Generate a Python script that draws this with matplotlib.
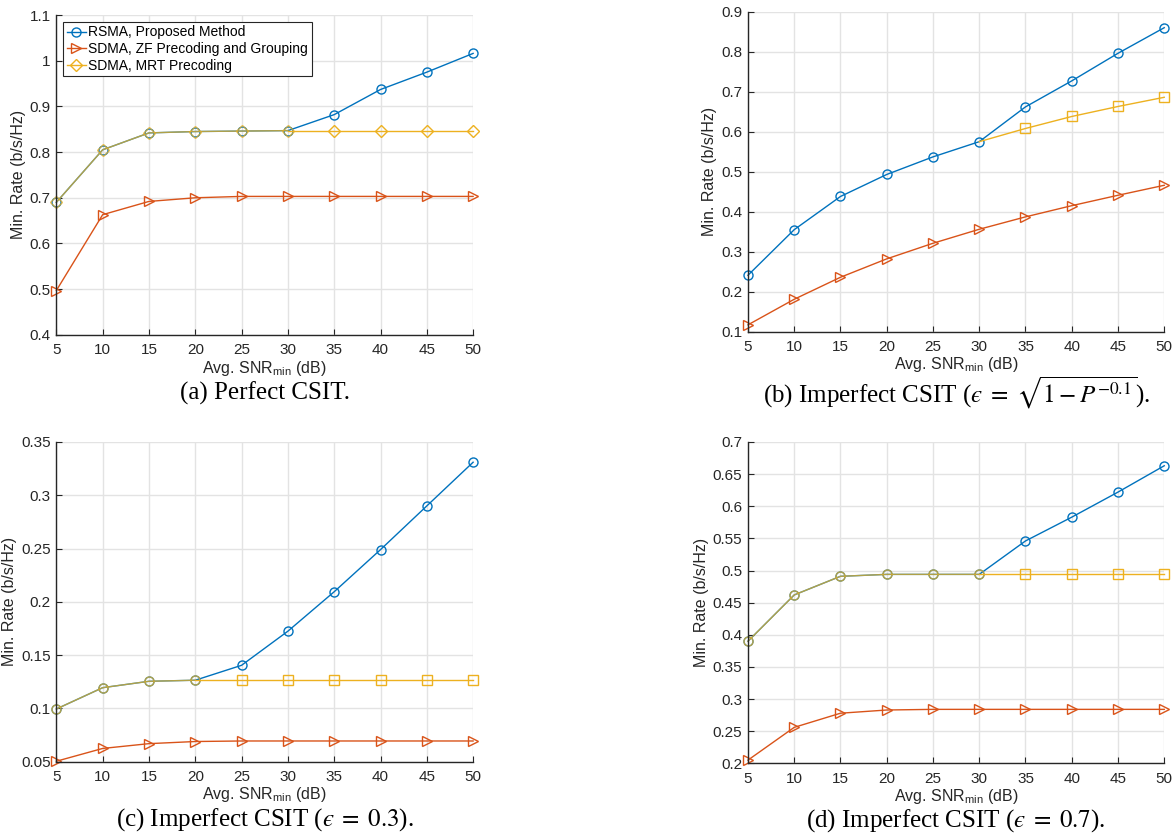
import numpy as np
import matplotlib.pyplot as plt

plt.rcParams['font.family'] = ['Liberation Sans', 'DejaVu Sans']
plt.rcParams['mathtext.fontset'] = 'custom'
plt.rcParams['mathtext.rm'] = 'Liberation Sans'
plt.rcParams['mathtext.it'] = 'Liberation Sans:italic'

snr = [5, 10, 15, 20, 25, 30, 35, 40, 45, 50]

# (a) perfect CSIT
rsma_a = [0.690, 0.805, 0.842, 0.845, 0.846, 0.847, 0.882, 0.937, 0.975, 1.016]
zf_a = [0.497, 0.663, 0.692, 0.700, 0.703, 0.703, 0.703, 0.703, 0.703, 0.703]
mrt_a = [0.690, 0.805, 0.842, 0.845, 0.846, 0.847, 0.847, 0.847, 0.847, 0.847]

# (b) imperfect CSIT, eps = sqrt(1 - P^-0.1)
rsma_b = [0.241, 0.355, 0.438, 0.493, 0.537, 0.575, 0.662, 0.727, 0.796, 0.860]
zf_b = [0.117, 0.181, 0.236, 0.282, 0.321, 0.356, 0.387, 0.415, 0.441, 0.466]
mrt_b = [0.241, 0.355, 0.438, 0.493, 0.537, 0.575, 0.608, 0.638, 0.663, 0.686]

# (c) eps = 0.3
rsma_c = [0.0995, 0.1195, 0.1255, 0.1265, 0.1405, 0.1725, 0.2095, 0.2490, 0.2900, 0.3310]
zf_c = [0.0505, 0.0625, 0.0670, 0.0690, 0.0695, 0.0695, 0.0695, 0.0695, 0.0695, 0.0695]
mrt_c = [0.0995, 0.1195, 0.1255, 0.1265, 0.1265, 0.1265, 0.1265, 0.1265, 0.1265, 0.1265]

# (d) eps = 0.7
rsma_d = [0.390, 0.462, 0.491, 0.494, 0.494, 0.494, 0.546, 0.583, 0.622, 0.663]
zf_d = [0.205, 0.256, 0.278, 0.283, 0.284, 0.284, 0.284, 0.284, 0.284, 0.284]
mrt_d = [0.390, 0.462, 0.491, 0.494, 0.494, 0.494, 0.494, 0.494, 0.494, 0.494]

labels = ['RSMA, Proposed Method', 'SDMA, ZF Precoding and Grouping', 'SDMA, MRT Precoding']
colors = ['#0072BD', '#D95319', '#EDB120']
axcol = '#262626'

eps = '\u03f5'
cap_a = '(a) Perfect CSIT.'
cap_b = '(b) Imperfect CSIT ($' + eps + r'\;=\;\sqrt{1-P^{-0.1}}$).'
cap_c = '(c) Imperfect CSIT ($' + eps + r'\;=\;0.3$).'
cap_d = '(d) Imperfect CSIT ($' + eps + r'\;=\;0.7$).'

# rect, series, MRT marker, marker on the part shared with RSMA, y range, ticks, caption, caption offset (px)
panels = [
    ([0.0480, 0.5990, 0.3550, 0.3830], rsma_a, zf_a, mrt_a, 'D', 'D', (0.4, 1.1), np.arange(0.4, 1.11, 0.1),
     ['0.4', '0.5', '0.6', '0.7', '0.8', '0.9', '1', '1.1'], cap_a, 65),
    ([0.6371, 0.6028, 0.3546, 0.3832], rsma_b, zf_b, mrt_b, 's', None, (0.1, 0.9), np.arange(0.1, 0.91, 0.1),
     ['0.1', '0.2', '0.3', '0.4', '0.5', '0.6', '0.7', '0.8', '0.9'], cap_b, 71),
    ([0.0480, 0.0877, 0.3550, 0.3830], rsma_c, zf_c, mrt_c, 's', 'o', (0.05, 0.35), np.arange(0.05, 0.351, 0.05),
     ['0.05', '0.1', '0.15', '0.2', '0.25', '0.3', '0.35'], cap_c, 64),
    ([0.6371, 0.0858, 0.3546, 0.3849], rsma_d, zf_d, mrt_d, 's', 'o', (0.2, 0.7), np.arange(0.2, 0.701, 0.05),
     ['0.2', '0.25', '0.3', '0.35', '0.4', '0.45', '0.5', '0.55', '0.6', '0.65', '0.7'], cap_d, 63),
]

fig = plt.figure(figsize=(11.74, 8.35), dpi=100)

for i, (rect, r, z, m, mk, mk_shared, ylim, yt, ytl, cap, cap_off) in enumerate(panels):
    ax = fig.add_axes(rect)
    kw = dict(lw=1.0, ms=6.5, mfc='none', mew=1.0, clip_on=False)
    ax.plot(snr, r, '-o', color=colors[0], label=labels[0], **kw)
    ax.plot(snr, z, '->', color=colors[1], label=labels[1], **kw)
    # part of MRT curve that coincides with RSMA
    n = 0
    while n < len(m) and m[n] == r[n]:
        n += 1
    if mk_shared is not None:
        ax.plot(snr[:n], m[:n], '-', marker=mk_shared, color=colors[2], alpha=0.75, **kw)
    ax.plot(snr[n - 1:], m[n - 1:], '-', marker=mk, color=colors[2], markevery=slice(1, None), **kw)
    ax.plot([], [], '-' + mk, color=colors[2], label=labels[2], **kw)
    ax.set_xlim(5, 50)
    ax.set_ylim(*ylim)
    ax.set_xticks(snr)
    ax.set_yticks(yt)
    ax.set_yticklabels(ytl)
    ax.grid(True, color='#e3e3e3', lw=1.0)
    ax.set_axisbelow(True)
    for s in ['top', 'right']:
        ax.spines[s].set_visible(False)
    for s in ['left', 'bottom']:
        ax.spines[s].set_color(axcol)
        ax.spines[s].set_linewidth(1.0)
    ax.tick_params(direction='in', length=4, width=0.8, colors=axcol, labelsize=11)
    ax.tick_params(axis='x', pad=6)
    ax.tick_params(axis='y', pad=4)
    ax.set_xlabel(r'Avg. SNR$_{\mathrm{min}}$ (dB)', fontsize=11.5, color=axcol, labelpad=1)
    ax.set_ylabel('Min. Rate (b/s/Hz)', fontsize=11.5, color=axcol, labelpad=3)
    if i == 0:
        leg = ax.legend(loc='upper left', fontsize=10, frameon=True, fancybox=False,
                        edgecolor='#262626', framealpha=1, borderpad=0.25, labelspacing=0.2,
                        handlelength=1.4, handletextpad=0.15, borderaxespad=0.5)
        leg.get_frame().set_linewidth(0.8)
    ax.text(0.5, -cap_off / (rect[3] * 835), cap, transform=ax.transAxes, ha='center', va='baseline',
            fontsize=18, family=['Liberation Serif', 'DejaVu Serif'], math_fontfamily='stix')

fig.savefig('out.png', dpi=100)
